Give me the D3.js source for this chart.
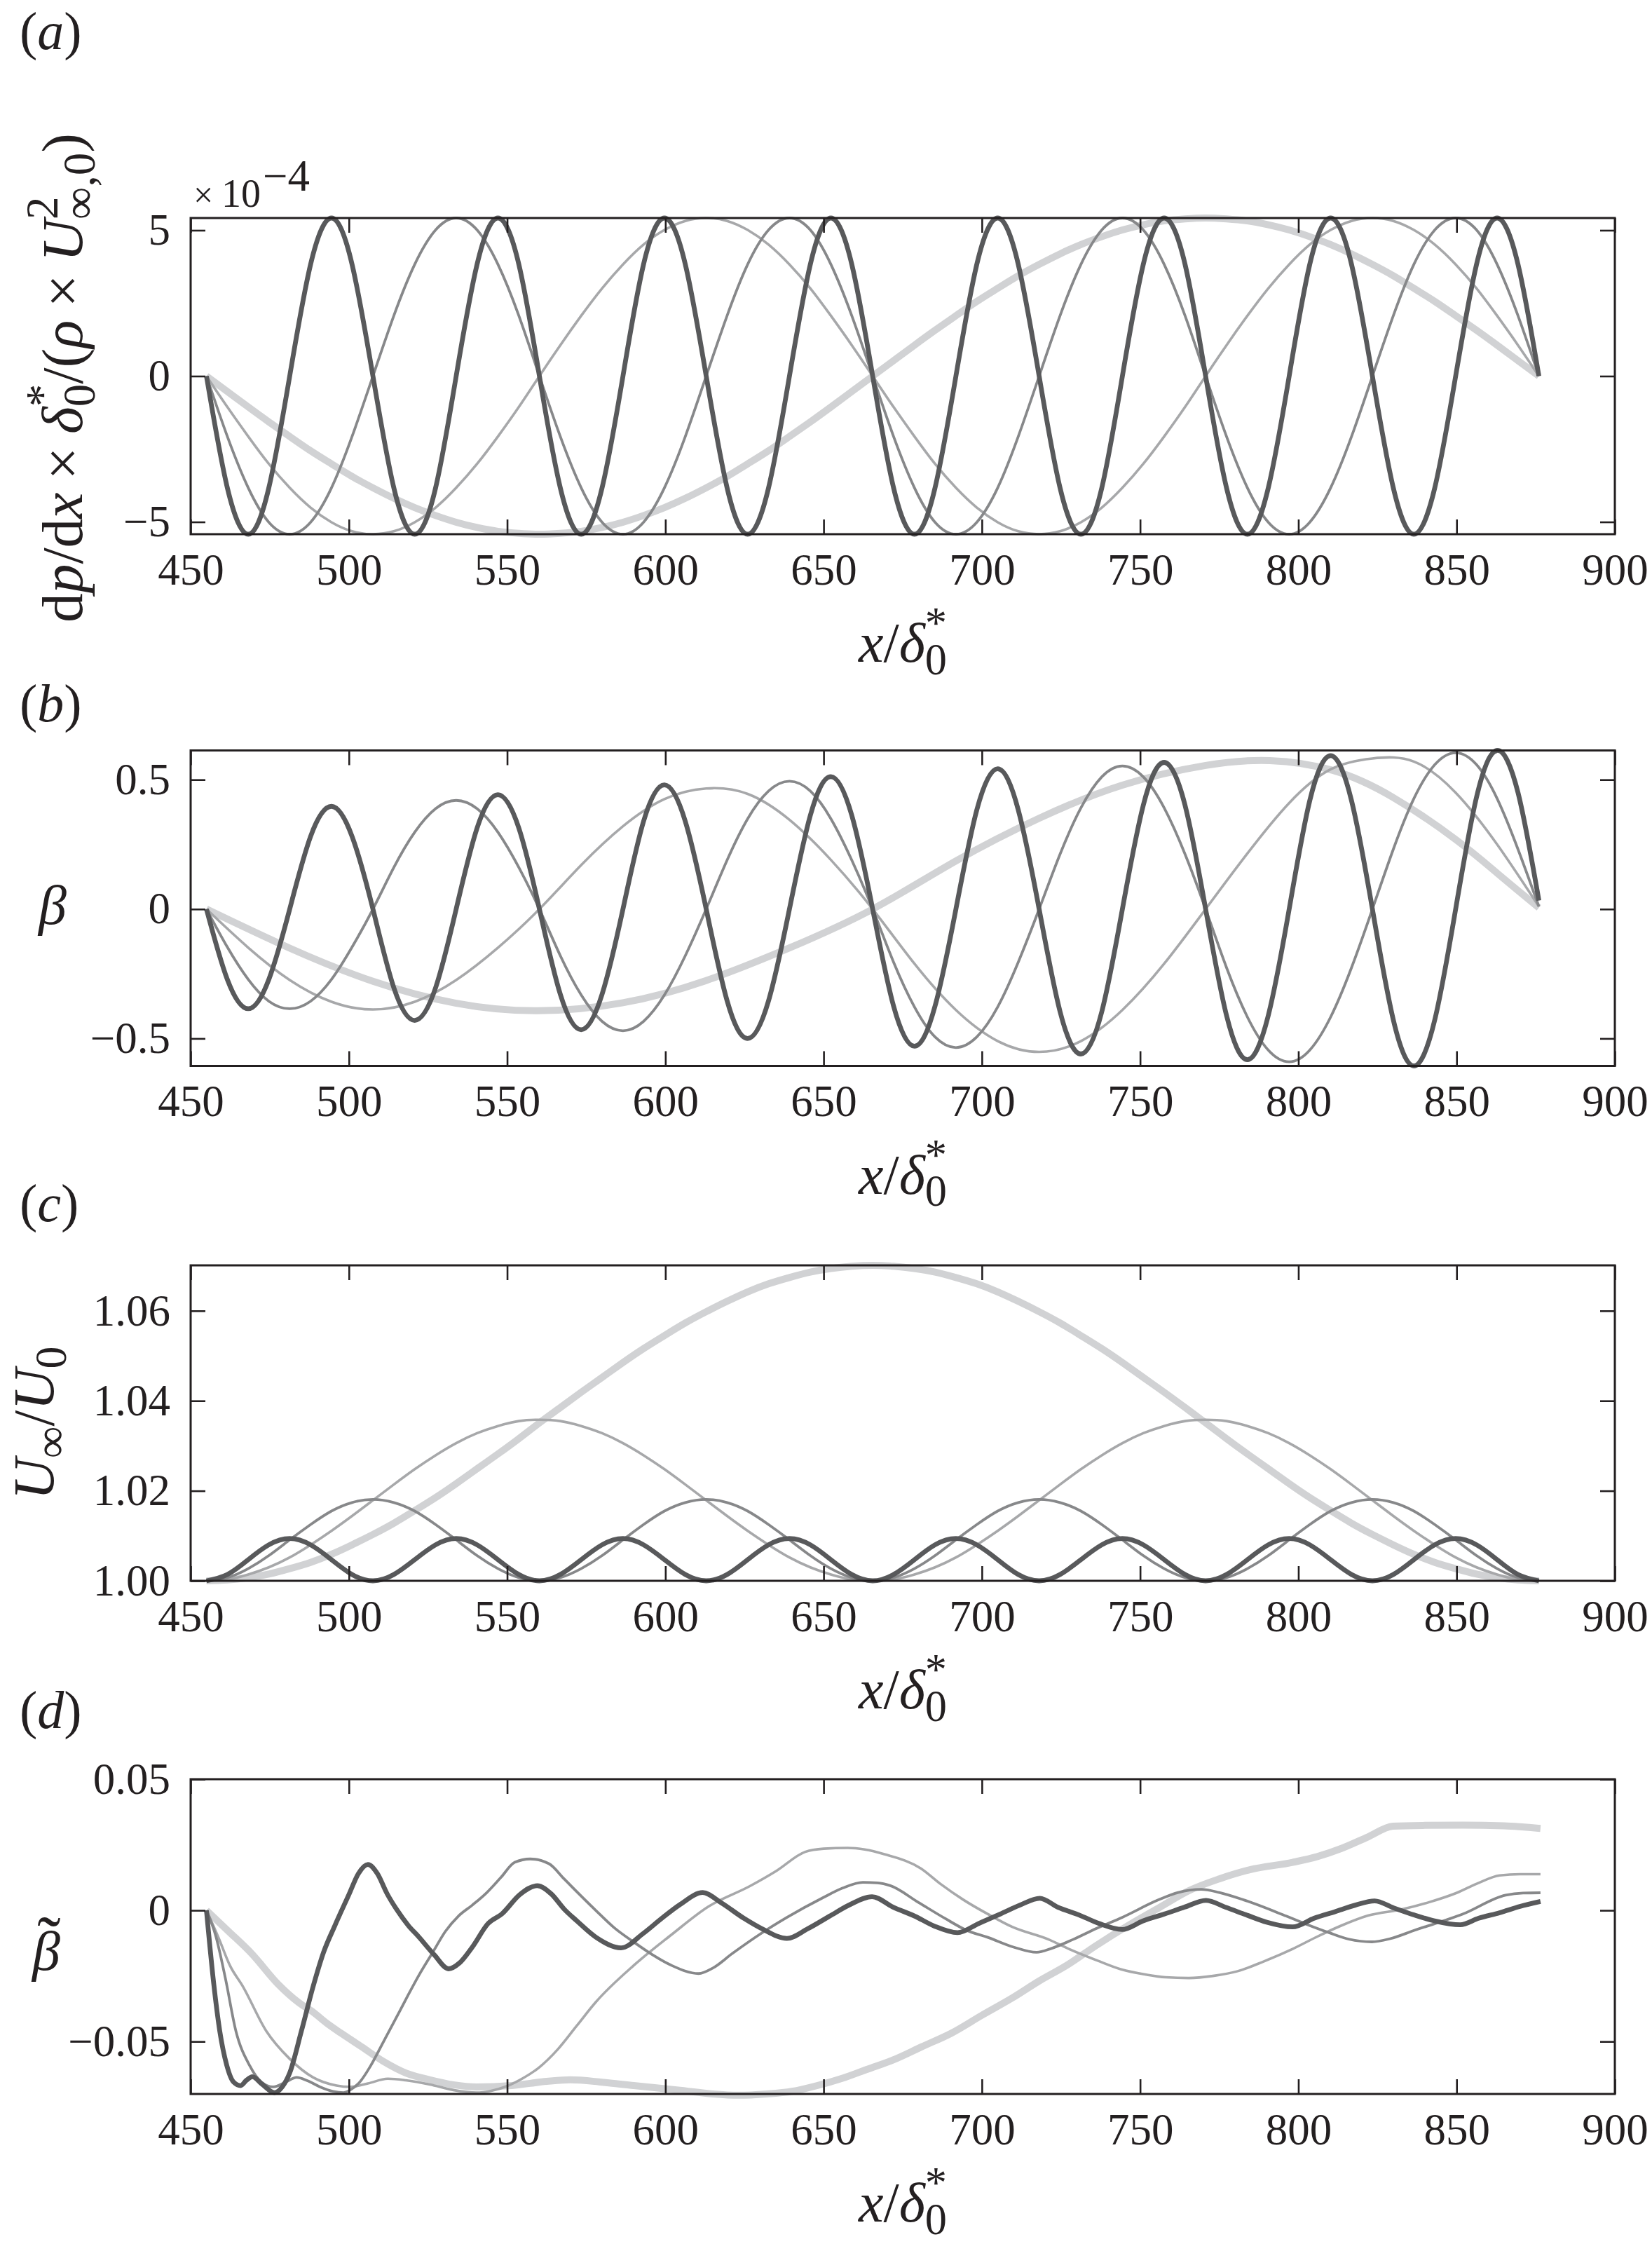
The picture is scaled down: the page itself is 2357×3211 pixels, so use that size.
<!DOCTYPE html>
<html><head><meta charset="utf-8">
<script src="https://cdn.jsdelivr.net/npm/d3@7"></script>
<style>body{margin:0;background:#fff}svg{display:block}</style>
</head><body>
<svg id="fig" width="2357" height="3211"></svg>
<script>
// ---------------- DATA ----------------
const xDomain = [450, 900];
const xTickVals = [450, 500, 550, 600, 650, 700, 750, 800, 850, 900];
const xTickLabels = ["450","500","550","600","650","700","750","800","850","900"];

// shared streamwise stations (x/delta0*)
const xGrid = [455.0,461.6,468.2,474.7,481.3,487.9,494.5,501.0,507.6,514.2,
520.8,527.4,533.9,540.5,547.1,553.7,560.2,566.8,573.4,580.0,
586.6,593.1,599.7,606.3,612.9,619.5,626.0,632.6,639.2,645.8,
652.3,658.9,665.5,672.1,678.7,685.2,691.8,698.4,705.0,711.5,
718.1,724.7,731.3,737.9,744.4,751.0,757.6,764.2,770.7,777.3,
783.9,790.5,797.1,803.6,810.2,816.8,823.4,830.0,836.5,843.1,
849.7,856.3,862.8,869.4,876.0];
const xHalf = [455.0,468.2,481.3,494.5,507.6,520.8,533.9,547.1,560.2,573.4,586.6,599.7,612.9,626.0,639.2,652.3,665.5,
678.7,691.8,705.0,718.1,731.3,744.4,757.6,770.7,783.9,797.1,810.2,823.4,836.5,849.7,862.8,876.0];

// (a) dp/dx * delta0*/(rho U^2), in units of 1e-4
const aTickVals = [-5, 0, 5];
const aTickLabels = ["\u22125", "0", "5"];
const dpL1 = [0,-0.53,-1.06,-1.57,-2.07,-2.56,-3.01,-3.44,-3.83,-4.19,-4.51,-4.78,-5.01,-5.19,-5.32,-5.39,-5.42,
-5.39,-5.32,-5.19,-5.01,-4.78,-4.51,-4.19,-3.83,-3.44,-3.01,-2.56,-2.07,-1.57,-1.06,-0.53,0,
0.53,1.06,1.57,2.07,2.56,3.01,3.44,3.83,4.19,4.51,4.78,5.01,5.19,5.32,5.39,5.42,
5.39,5.32,5.19,5.01,4.78,4.51,4.19,3.83,3.44,3.01,2.56,2.07,1.57,1.06,0.53,0];
const dpL2 = [0,-1.06,-2.07,-3.01,-3.83,-4.51,-5.01,-5.32,-5.42,-5.32,-5.01,-4.51,-3.83,-3.01,-2.07,-1.06,0,
1.06,2.07,3.01,3.83,4.51,5.01,5.32,5.42,5.32,5.01,4.51,3.83,3.01,2.07,1.06,0,
-1.06,-2.07,-3.01,-3.83,-4.51,-5.01,-5.32,-5.42,-5.32,-5.01,-4.51,-3.83,-3.01,-2.07,-1.06,0,
1.06,2.07,3.01,3.83,4.51,5.01,5.32,5.42,5.32,5.01,4.51,3.83,3.01,2.07,1.06,0];
const dpL4 = [0,-2.07,-3.83,-5.01,-5.42,-5.01,-3.83,-2.07,0, 2.07,3.83,5.01,5.42,5.01,3.83,2.07,0,
-2.07,-3.83,-5.01,-5.42,-5.01,-3.83,-2.07,0, 2.07,3.83,5.01,5.42,5.01,3.83,2.07,0,
-2.07,-3.83,-5.01,-5.42,-5.01,-3.83,-2.07,0, 2.07,3.83,5.01,5.42,5.01,3.83,2.07,0,
-2.07,-3.83,-5.01,-5.42,-5.01,-3.83,-2.07,0, 2.07,3.83,5.01,5.42,5.01,3.83,2.07,0];
const dpL8 = [0,-3.83,-5.42,-3.83,0,3.83,5.42,3.83,0,-3.83,-5.42,-3.83,0,3.83,5.42,3.83,
0,-3.83,-5.42,-3.83,0,3.83,5.42,3.83,0,-3.83,-5.42,-3.83,0,3.83,5.42,3.83,
0,-3.83,-5.42,-3.83,0,3.83,5.42,3.83,0,-3.83,-5.42,-3.83,0,3.83,5.42,3.83,
0,-3.83,-5.42,-3.83,0,3.83,5.42,3.83,0,-3.83,-5.42,-3.83,0,3.83,5.42,3.83,0];

// (b) beta
const bTickVals = [-0.5, 0, 0.5];
const bTickLabels = ["\u22120.5", "0", "0.5"];
const bL1X = [455,481.3,507.6,533.9,559.5,586.6,612.9,639.2,665.5,691.8,718.1,744.4,770.7,791,810.9,830,849.7,863,876];
const bL1 = [0,-0.151,-0.279,-0.364,-0.393,-0.362,-0.276,-0.150,0,0.186,0.351,0.479,0.555,0.574,0.536,0.431,0.269,0.137,0.005];
const bL2 = [0,-0.149,-0.274,-0.358,-0.388,-0.358,-0.274,-0.149,0,
0.170,0.320,0.425,0.466,0.445,0.345,0.190,0,
-0.211,-0.390,-0.510,-0.552,-0.510,-0.390,-0.211,0,
0.215,0.410,0.540,0.582,0.570,0.450,0.250,0.01];
const bL4 = [0,
-0.147,-0.272,-0.356,-0.385,-0.356,-0.272,-0.147,0,
0.161,0.297,0.388,0.42,0.388,0.297,0.161,0,
-0.180,-0.332,-0.434,-0.47,-0.434,-0.332,-0.180,0,
0.189,0.349,0.456,0.494,0.456,0.349,0.189,0,
-0.205,-0.378,-0.494,-0.535,-0.494,-0.378,-0.205,0,
0.212,0.391,0.511,0.553,0.511,0.391,0.212,0,
-0.226,-0.417,-0.545,-0.59,-0.545,-0.417,-0.226,0,
0.231,0.427,0.558,0.604,0.558,0.427,0.231,0.01];
const bL8 = [0,
-0.272,-0.385,-0.272,0, 0.281,0.397,0.281,0,
-0.304,-0.43,-0.304,0, 0.313,0.442,0.313,0,
-0.329,-0.466,-0.329,0, 0.339,0.48,0.339,0,
-0.354,-0.50,-0.354,0, 0.362,0.512,0.362,0,
-0.375,-0.53,-0.375,0, 0.383,0.542,0.383,0,
-0.396,-0.56,-0.396,0, 0.401,0.567,0.401,0,
-0.411,-0.582,-0.411,0, 0.419,0.593,0.419,0,
-0.428,-0.606,-0.428,0, 0.433,0.613,0.45,0.033];

// (c) U_inf / U_0
const cTickVals = [1.00, 1.02, 1.04, 1.06];
const cTickLabels = ["1.00", "1.02", "1.04", "1.06"];
const cL1 = [1.0000,1.0002,1.0007,1.0015,1.0027,1.0041,1.0059,1.0080,1.0103,1.0128,1.0156,1.0185,1.0216,1.0249,1.0282,1.0316,
1.0351,1.0385,1.0419,1.0452,1.0485,1.0516,1.0545,1.0573,1.0598,1.0621,1.0642,1.0660,1.0674,1.0686,1.0694,1.0699,1.0701,
1.0699,1.0694,1.0686,1.0674,1.0660,1.0642,1.0621,1.0598,1.0573,1.0545,1.0516,1.0485,1.0452,1.0419,1.0385,1.0351,
1.0316,1.0282,1.0249,1.0216,1.0185,1.0156,1.0128,1.0103,1.0080,1.0059,1.0041,1.0027,1.0015,1.0007,1.0002,1.0000];
const cL2 = [1.0000,1.0003,1.0014,1.0030,1.0052,1.0080,1.0111,1.0144,1.0179,1.0214,1.0248,1.0279,1.0306,1.0328,1.0344,1.0355,1.0358,
1.0355,1.0344,1.0328,1.0306,1.0279,1.0248,1.0214,1.0179,1.0144,1.0111,1.0080,1.0052,1.0030,1.0014,1.0003,1.0000,
1.0003,1.0014,1.0030,1.0052,1.0080,1.0111,1.0144,1.0179,1.0214,1.0248,1.0279,1.0306,1.0328,1.0344,1.0355,1.0358,
1.0355,1.0344,1.0328,1.0306,1.0279,1.0248,1.0214,1.0179,1.0144,1.0111,1.0080,1.0052,1.0030,1.0014,1.0003,1.0000];
const cL4 = [1.0000,1.0007,1.0027,1.0056,1.0091,1.0125,1.0155,1.0174,1.0181,1.0174,1.0155,1.0125,1.0091,1.0056,1.0027,1.0007,
1.0000,1.0007,1.0027,1.0056,1.0091,1.0125,1.0155,1.0174,1.0181,1.0174,1.0155,1.0125,1.0091,1.0056,1.0027,1.0007,
1.0000,1.0007,1.0027,1.0056,1.0091,1.0125,1.0155,1.0174,1.0181,1.0174,1.0155,1.0125,1.0091,1.0056,1.0027,1.0007,
1.0000,1.0007,1.0027,1.0056,1.0091,1.0125,1.0155,1.0174,1.0181,1.0174,1.0155,1.0125,1.0091,1.0056,1.0027,1.0007,1.0000];
const cL8 = [1.0000,1.0014,1.0047,1.0080,1.0094,1.0080,1.0047,1.0014,1.0000,1.0014,1.0047,1.0080,1.0094,1.0080,1.0047,1.0014,
1.0000,1.0014,1.0047,1.0080,1.0094,1.0080,1.0047,1.0014,1.0000,1.0014,1.0047,1.0080,1.0094,1.0080,1.0047,1.0014,
1.0000,1.0014,1.0047,1.0080,1.0094,1.0080,1.0047,1.0014,1.0000,1.0014,1.0047,1.0080,1.0094,1.0080,1.0047,1.0014,
1.0000,1.0014,1.0047,1.0080,1.0094,1.0080,1.0047,1.0014,1.0000,1.0014,1.0047,1.0080,1.0094,1.0080,1.0047,1.0014,1.0000];

// (d) beta tilde  [x, value]
const dYLim = [-0.07, 0.05];
const dTickVals = [-0.05, 0, 0.05];
const dTickLabels = ["\u22120.05", "0", "0.05"];
const dL1 = [[455,0],[462,-0.008],[469.3,-0.0165],[477.6,-0.0281],[484.2,-0.0352],[488.7,-0.0388],[493,-0.043],[497.5,-0.0468],
[504,-0.052],[510.8,-0.0575],[518,-0.062],[525.6,-0.0646],[533,-0.0665],[540.3,-0.0673],[551.4,-0.0668],[562.5,-0.0652],
[570,-0.0646],[580,-0.0655],[590,-0.0668],[604.6,-0.0686],[615,-0.0700],[623,-0.0705],[632,-0.0700],[640,-0.0690],
[648,-0.0668],[656,-0.0640],[664,-0.0605],[672,-0.0570],[681,-0.052],[690.4,-0.0468],[700,-0.040],[709.6,-0.0334],
[718,-0.027],[726.9,-0.0209],[736,-0.0135],[746.2,-0.0058],[756,0.001],[765.4,0.0075],[775,0.012],[784.7,0.0155],
[798.2,0.0183],[806,0.0205],[813.6,0.0236],[822,0.028],[829.9,0.0321],[840,0.0324],[852,0.0325],[865,0.0322],[876.5,0.0312]];
const dL2 = [[455,0],[459,-0.011],[462.4,-0.021],[466.5,-0.029],[473.9,-0.046],[481.3,-0.0566],[488.7,-0.0637],[496.1,-0.0668],
[500.5,-0.0673],[506,-0.0660],[512.3,-0.0642],[518,-0.0648],[525.6,-0.0664],[533,-0.0685],[540.3,-0.0695],[545,-0.0688],
[550,-0.0670],[555,-0.0640],[560,-0.0600],[566,-0.0530],[572,-0.0440],[578,-0.0350],[590,-0.0210],[601.8,-0.0094],[613.4,0.0013],
[626.8,0.0093],[635,0.015],[644.2,0.0223],[650,0.0235],[657.6,0.0238],[663,0.0232],[669.2,0.0214],[680.7,0.0160],
[687,0.010],[694.2,0.0040],[702,-0.0015],[709.6,-0.0063],[721.1,-0.0111],[728,-0.0150],[736.6,-0.0192],[744,-0.0225],
[751.9,-0.0245],[758,-0.0255],[765.4,-0.0258],[773,-0.0250],[780.8,-0.0232],[789,-0.0195],[798.2,-0.0147],[806,-0.010],
[813.6,-0.0058],[822,-0.002],[832.8,0.0004],[841,0.003],[850.1,0.0067],[857,0.0105],[863.6,0.0133],[870,0.0138],[876.5,0.0138]];
const dL4 = [[455,0],[458,-0.010],[461,-0.026],[464.3,-0.046],[468.7,-0.0593],[472.4,-0.0655],[476.1,-0.0673],[480,-0.0655],
[483.5,-0.0637],[487,-0.0650],[490.9,-0.0673],[495,-0.0690],[498.3,-0.0695],[501,-0.0680],[503.4,-0.0655],[507,-0.059],
[510.8,-0.0504],[514.5,-0.042],[518.2,-0.0335],[522,-0.025],[526.7,-0.0156],[530.5,-0.008],[534.6,-0.0022],[539,0.002],
[543.5,0.0067],[548,0.0125],[552.4,0.0183],[557.3,0.0196],[563.2,0.0178],[568,0.012],[573.1,0.0058],[578,0.0000],
[583.9,-0.0067],[589.9,-0.012],[596,-0.017],[601.8,-0.0209],[610.5,-0.0241],[615,-0.022],[621.1,-0.0165],[630,-0.009],
[638.4,-0.0027],[649.9,0.0049],[656,0.0085],[662.4,0.0107],[667,0.0105],[671.1,0.0094],[680,0.003],[688.4,-0.0031],
[695,-0.0075],[701.9,-0.0103],[710,-0.014],[717.3,-0.016],[722,-0.0145],[728.8,-0.0111],[736,-0.007],[744.3,-0.0027],
[755.8,0.004],[762,0.0068],[769.3,0.008],[775,0.0068],[782.7,0.004],[796.2,-0.0022],[803,-0.0055],[809.7,-0.0085],
[816,-0.011],[823.2,-0.012],[829,-0.0108],[836.7,-0.0076],[852,-0.0014],[865.5,0.0058],[871,0.0066],[876.5,0.0067]];
const dL8 = [[455,0],[457.3,-0.028],[459.2,-0.046],[461.4,-0.059],[463.6,-0.0655],[465.8,-0.0668],[467.6,-0.0648],[469.5,-0.0634],
[472.5,-0.0662],[476.5,-0.0695],[479,-0.0672],[481.3,-0.062],[485,-0.046],[488.7,-0.029],[492,-0.016],[495.5,-0.006],
[500,0.006],[503,0.0140],[506,0.0175],[509,0.0140],[512,0.0065],[515,0.0005],[518.8,-0.0058],[522,-0.0100],[527,-0.0170],
[531.5,-0.0223],[535,-0.0200],[539,-0.0140],[544,-0.0050],[548.4,-0.0013],[554,0.0060],[559.5,0.0094],[564,0.0062],
[568,0.0005],[572,-0.0040],[578,-0.0102],[586,-0.0143],[592.9,-0.0089],[598.8,-0.0031],[604.6,0.0022],[611.8,0.0068],
[617.5,0.0030],[624.9,-0.0031],[630.5,-0.0070],[638.4,-0.0107],[645,-0.0070],[651.9,-0.0022],[658,0.0020],[665.3,0.0052],
[672,0.0012],[678.8,-0.0022],[685,-0.0060],[692.3,-0.0085],[699,-0.0050],[705.8,-0.0014],[712,0.0020],[718.3,0.0046],
[724,0.0012],[730.8,-0.0018],[737,-0.0050],[744.3,-0.0073],[751,-0.0040],[757.7,-0.0014],[764,0.0012],[770.8,0.0038],
[777,0.0012],[783.7,-0.0018],[790,-0.0045],[798.2,-0.0063],[805,-0.0030],[811.6,-0.0005],[818,0.0020],[824.1,0.0036],
[830,0.0010],[836.7,-0.0018],[843,-0.0040],[851.1,-0.0055],[857,-0.0030],[863.6,-0.0009],[870,0.0015],[876.5,0.0034]];

// ---------------- STYLE / LAYOUT ----------------
const FONT = "'Liberation Serif','Times New Roman',Times,serif";
const AX = "#231f20";
const styles = {
  L1: {stroke: "#d1d2d4", width: 10},
  L2: {stroke: "#a7a8aa", width: 3.6},
  L4: {stroke: "#87888a", width: 3.8},
  L8: {stroke: "#58595b", width: 6.8}
};
const PL = 272, PR = 2304;

const svg = d3.select("#fig");
svg.append("rect").attr("width", 2357).attr("height", 3211).attr("fill", "#fff");
const x = d3.scaleLinear().domain(xDomain).range([PL, PR]);

const zipXY = (xs, ys) => xs.map((v, i) => [v, ys[i]]);

// rich text builder: returns width
function rich(g, parts, fs) {
  let cx = 0;
  parts.forEach(p => {
    if (p.gap !== undefined) { cx += p.gap * fs; return; }
    if (p.sub !== undefined || p.sup !== undefined) {
      let w = 0;
      const ss = fs * 0.78;
      if (p.sub !== undefined) {
        const t = g.append("text").attr("x", cx).attr("y", fs * 0.22).attr("font-size", ss).text(p.sub);
        w = Math.max(w, t.node().getComputedTextLength());
      }
      if (p.sup !== undefined) {
        const t = g.append("text").attr("x", cx).attr("y", -fs * 0.42).attr("font-size", ss).text(p.sup);
        w = Math.max(w, t.node().getComputedTextLength());
      }
      cx += w;
      return;
    }
    const t = g.append("text").attr("x", cx).attr("y", 0).attr("font-size", fs)
      .attr("font-style", p.it ? "italic" : "normal").text(p.t);
    cx += t.node().getComputedTextLength();
  });
  return cx;
}

function fittedRich(parent, parts, baseFs, targetLen, lo, hi) {
  const tmp = parent.append("g").attr("font-family", FONT);
  const w0 = rich(tmp, parts, baseFs);
  tmp.remove();
  let fs = targetLen ? baseFs * targetLen / w0 : baseFs;
  fs = Math.max(lo, Math.min(hi, fs));
  const g = parent.append("g").attr("font-family", FONT).attr("fill", AX);
  const inner = g.append("g");
  const w = rich(inner, parts, fs);
  return {g, inner, w, fs};
}

const xLabelParts = [{t: "x", it: 1}, {t: "/"}, {t: "\u03B4", it: 1}, {sub: "0", sup: "*"}];

const panels = [
  {key: "a", top: 311, bottom: 762, curve: d3.curveNatural,
   series: [{k: "L1", pts: zipXY(xGrid, dpL1)}, {k: "L2", pts: zipXY(xGrid, dpL2)},
            {k: "L4", pts: zipXY(xGrid, dpL4)}, {k: "L8", pts: zipXY(xGrid, dpL8)}],
   yTicks: aTickVals, yLabels: aTickLabels, labelBase: 70},
  {key: "b", top: 1070.5, bottom: 1520.5, curve: d3.curveNatural,
   series: [{k: "L1", pts: zipXY(bL1X, bL1)}, {k: "L2", pts: zipXY(xHalf, bL2)},
            {k: "L4", pts: zipXY(xGrid, bL4)}, {k: "L8", pts: zipXY(xGrid, bL8)}],
   yTicks: bTickVals, yLabels: bTickLabels, labelBase: 1029},
  {key: "c", top: 1805, bottom: 2255, curve: d3.curveNatural,
   series: [{k: "L1", pts: zipXY(xGrid, cL1)}, {k: "L2", pts: zipXY(xGrid, cL2)},
            {k: "L4", pts: zipXY(xGrid, cL4)}, {k: "L8", pts: zipXY(xGrid, cL8)}],
   yTicks: cTickVals, yLabels: cTickLabels, labelBase: 1742},
  {key: "d", top: 2538, bottom: 2987, curve: d3.curveMonotoneX, fixed: dYLim,
   series: [{k: "L1", pts: dL1}, {k: "L2", pts: dL2}, {k: "L4", pts: dL4}, {k: "L8", pts: dL8}],
   yTicks: dTickVals, yLabels: dTickLabels, labelBase: 2465}
];

panels.forEach(p => {
  const g = svg.append("g");
  const dom = p.fixed ? p.fixed : d3.extent(p.series.flatMap(s => s.pts.map(d => d[1])));
  const y = d3.scaleLinear().domain(dom).range([p.bottom, p.top]);
  const line = d3.line().x(d => x(d[0])).y(d => y(d[1])).curve(p.curve);
  p.series.forEach(s => {
    g.append("path").datum(s.pts).attr("d", line).attr("fill", "none")
      .attr("stroke", styles[s.k].stroke).attr("stroke-width", styles[s.k].width)
      .attr("stroke-linejoin", "round").attr("stroke-linecap", "butt");
  });
  const styleAxis = sel => {
    sel.attr("font-family", FONT).attr("font-size", 63).attr("color", AX);
    sel.select(".domain").remove();
    sel.selectAll(".tick line").attr("stroke-width", 2.6);
    sel.selectAll(".tick text").attr("fill", AX);
  };
  g.append("g").attr("transform", `translate(0,${p.bottom})`)
    .call(d3.axisBottom(x).tickValues(xTickVals).tickFormat((d, i) => xTickLabels[i]).tickSize(-21).tickPadding(27))
    .call(styleAxis);
  g.append("g").attr("transform", `translate(0,${p.top})`)
    .call(d3.axisTop(x).tickValues(xTickVals).tickFormat("").tickSize(-21)).call(styleAxis);
  g.append("g").attr("transform", `translate(${PL},0)`)
    .call(d3.axisLeft(y).tickValues(p.yTicks).tickFormat((d, i) => p.yLabels[i]).tickSize(-21).tickPadding(29))
    .call(styleAxis);
  g.append("g").attr("transform", `translate(${PR},0)`)
    .call(d3.axisRight(y).tickValues(p.yTicks).tickFormat("").tickSize(-21)).call(styleAxis);
  g.append("rect").attr("x", PL).attr("y", p.top).attr("width", PR - PL).attr("height", p.bottom - p.top)
    .attr("fill", "none").attr("stroke", AX).attr("stroke-width", 3);

  // x-axis label
  const xl = fittedRich(g, xLabelParts, 80, null, 60, 100);
  xl.g.attr("transform", `translate(${(PL + PR) / 2 - xl.w / 2},${p.bottom + 182})`);

  // panel label
  const pl = g.append("text").attr("x", 28).attr("y", p.labelBase).attr("font-family", FONT)
    .attr("font-size", 76).attr("fill", AX);
  pl.append("tspan").text("(");
  pl.append("tspan").attr("font-style", "italic").text(p.key);
  pl.append("tspan").text(")");
});

// y labels
{
  const partsA = [{t: "d"}, {t: "p", it: 1}, {t: "/"}, {t: "d"}, {t: "x", it: 1}, {gap: 0.22}, {t: "\u00D7"}, {gap: 0.22},
    {t: "\u03B4", it: 1}, {sub: "0", sup: "*"}, {t: "/("}, {t: "\u03C1", it: 1}, {gap: 0.22}, {t: "\u00D7"}, {gap: 0.22},
    {t: "U", it: 1}, {sub: "\u221E,0", sup: "2"}, {t: ")"}];
  const la = fittedRich(svg, partsA, 76, 698, 70, 92);
  la.g.attr("transform", `translate(117,539) rotate(-90)`);
  la.inner.attr("transform", `translate(${-la.w / 2},0)`);

  const partsC = [{t: "U", it: 1}, {sub: "\u221E"}, {t: "/"}, {t: "U", it: 1}, {sub: "0"}];
  const lc = fittedRich(svg, partsC, 82, null, 70, 92);
  lc.g.attr("transform", `translate(76,2030) rotate(-90)`);
  lc.inner.attr("transform", `translate(${-lc.w / 2},0)`);

  // beta (b)
  svg.append("text").attr("x", 75).attr("y", 1318).attr("text-anchor", "middle").attr("font-family", FONT)
    .attr("font-size", 80).attr("font-style", "italic").attr("fill", AX).text("\u03B2");
  // beta tilde (d): beta with a tilde accent above it
  svg.append("text").attr("x", 66).attr("y", 2810).attr("text-anchor", "middle").attr("font-family", FONT)
    .attr("font-size", 80).attr("font-style", "italic").attr("fill", AX).text("\u03B2");
  svg.append("text").attr("x", 70).attr("y", 2802).attr("text-anchor", "middle").attr("font-family", FONT)
    .attr("font-size", 100).attr("fill", AX).text("\u02DC");
}

// exponent label of panel (a)
{
  const t = svg.append("g").attr("font-family", FONT).attr("fill", AX);
  t.append("text").attr("x", 276).attr("y", 295).attr("font-size", 50).text("\u00D7");
  t.append("text").attr("x", 316).attr("y", 295).attr("font-size", 56).text("10");
  t.append("text").attr("x", 375).attr("y", 272).attr("font-size", 63).text("\u22124");
}
</script>
</body></html>
